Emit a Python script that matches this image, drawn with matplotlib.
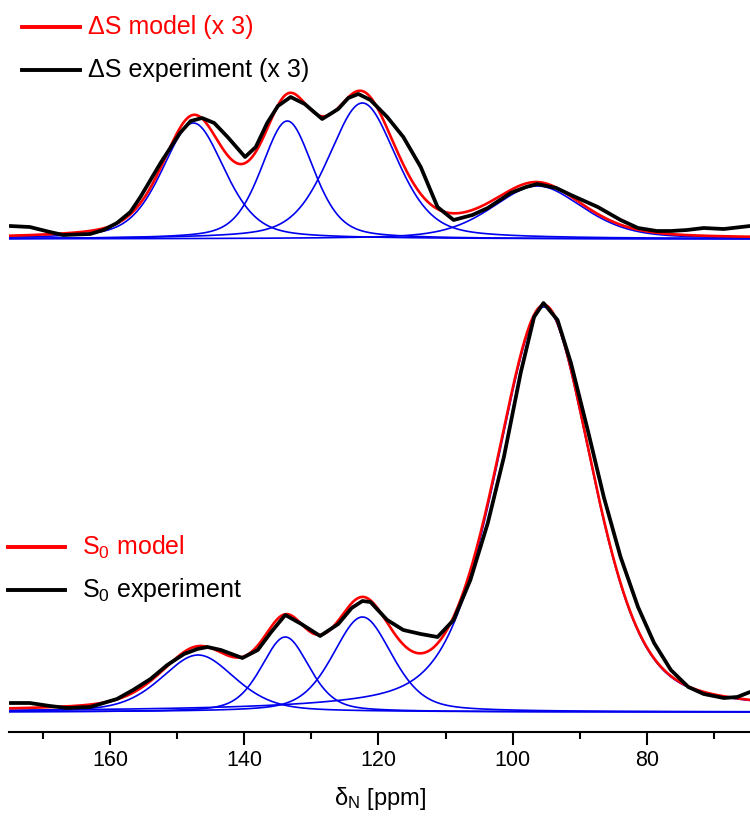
import numpy as np
import matplotlib.pyplot as plt
from matplotlib.lines import Line2D

plt.rcParams['font.family'] = ['Liberation Sans', 'DejaVu Sans']
plt.rcParams['mathtext.fontset'] = 'custom'
plt.rcParams['mathtext.rm'] = 'Liberation Sans'
plt.rcParams['mathtext.it'] = 'Liberation Sans:italic'

# --- data (intensity in arbitrary units) ---
# Delta S experiment (x 3)
ds_ppm = [175, 172, 169, 167, 163, 161, 159, 157, 155.5, 152.5, 149.6, 148, 146.3,
          144.5, 142.5, 139.9, 138.3, 136.6, 135, 133.1, 131, 128.4, 126, 124.5, 123,
          121.2, 118.7, 116.3, 113.7, 111.2, 108.8, 106, 103.7, 100.3, 98, 96.3, 93.5,
          91.3, 87.3, 83.9, 81.3, 78.5, 76.4, 74, 71.5, 68.5, 64.6]
ds_exp = [13, 12, 7, 4, 5, 9, 16, 27, 42, 76, 106, 118, 121,
          116, 102, 82, 92, 116, 133, 142, 135, 120, 130, 141, 145,
          139, 122, 102, 72, 32, 19, 24, 31, 46, 52, 55, 51,
          44, 32, 19, 11, 8, 8, 9, 11, 10, 13]

# S0 experiment
s0_ppm = [175, 172, 169, 166.4, 163, 161.5, 159, 156.6, 154, 151.5, 149, 147, 145.5,
          143.5, 140.3, 138, 136, 133.9, 131.5, 128.7, 126, 124, 122.4, 121.2, 118.7,
          116.3, 113.7, 111.2, 108.8, 106.3, 103.7, 101.3, 98.8, 96.8, 95.4, 93.3, 91.3,
          88.8, 86.4, 83.9, 81.3, 78.9, 76.4, 73.8, 71.5, 68.5, 66.5, 64.6]
s0_exp = [9, 9, 6, 4, 5, 8, 13, 22, 33, 47, 58, 63, 65,
          62, 54, 62, 80, 97, 88, 76, 88, 104, 111, 110, 92,
          82, 78, 75, 92, 132, 189, 255, 339, 395, 409, 392, 349,
          282, 215, 155, 105, 69, 42, 25, 18, 14, 15, 20]

# fitted components: centre (ppm), height, FWHM (ppm)
ds_centers = [147.6, 133.6, 122.4, 96.3]
ds_heights = [116, 118, 136, 53]
ds_widths = [11, 9.2, 12, 16]

s0_centers = [146.9, 133.9, 122.4, 95.3]
s0_heights = [57, 75, 95, 405]
s0_widths = [13, 8.5, 10.5, 17]

eta = 0.4  # lorentzian fraction


def pvoigt(x, c, h, w):
    g = np.exp(-4 * np.log(2) * ((x - c) / w) ** 2)
    l = 1 / (1 + 4 * ((x - c) / w) ** 2)
    return h * (eta * l + (1 - eta) * g)


x = np.linspace(175.5, 64, 1200)

fig = plt.figure(figsize=(7.5, 8.16), dpi=100)
W, H = 750, 816
left = 9 / W
ax_top = fig.add_axes([left, (H - 260) / H, 1 - left, 180 / H])
ax_bot = fig.add_axes([left, (H - 732) / H, 1 - left, 442 / H])

for ax, cs, hs, ws, px, ex in [(ax_top, ds_centers, ds_heights, ds_widths, ds_ppm, ds_exp),
                               (ax_bot, s0_centers, s0_heights, s0_widths, s0_ppm, s0_exp)]:
    total = np.zeros_like(x)
    for c, h, w in zip(cs, hs, ws):
        comp = pvoigt(x, c, h, w)
        total += comp
        ax.plot(x, comp, color='#0000ee', lw=1.2, zorder=2)
    ax.plot(x, total, color='#ff0000', lw=1.9, zorder=3)
    ax.plot(px, ex, color='black', lw=2.7, zorder=4,
            solid_capstyle='round', solid_joinstyle='round')
    ax.set_xlim(175.1, 64.6)
    ax.set_yticks([])
    for s in ['left', 'right', 'top']:
        ax.spines[s].set_visible(False)

ax_top.set_ylim(-21, 159)
ax_top.spines['bottom'].set_visible(False)
ax_top.set_xticks([])

ax_bot.set_ylim(-20, 422)
ax_bot.spines['bottom'].set_linewidth(1.5)
ax_bot.set_xticks([160, 140, 120, 100, 80])
ax_bot.set_xticks([170, 150, 130, 110, 90, 70], minor=True)
ax_bot.tick_params(axis='x', which='major', length=9, width=1.5, direction='out',
                   labelsize=15.5, pad=4)
ax_bot.tick_params(axis='x', which='minor', length=5, width=1.5, direction='out')
ax_bot.set_xlabel('\u03b4$_\\mathregular{N}$ [ppm]', fontsize=17, labelpad=10)

# legends drawn by hand
def legend_row(y_px, x0, x1, xt, color, text):
    yf = (H - y_px) / H
    fig.add_artist(Line2D([x0 / W, x1 / W], [yf, yf], color=color, lw=2.8))
    fig.text(xt / W, yf, text, color=color, fontsize=18, va='center', ha='left')


legend_row(27, 22, 80, 88, '#ff0000', '\u0394S model (x 3)')
legend_row(70, 22, 80, 88, 'black', '\u0394S experiment (x 3)')
legend_row(547, 8, 65, 82, '#ff0000', 'S$_0$ model')
legend_row(590, 8, 65, 82, 'black', 'S$_0$ experiment')

fig.savefig('out.png', dpi=100)
